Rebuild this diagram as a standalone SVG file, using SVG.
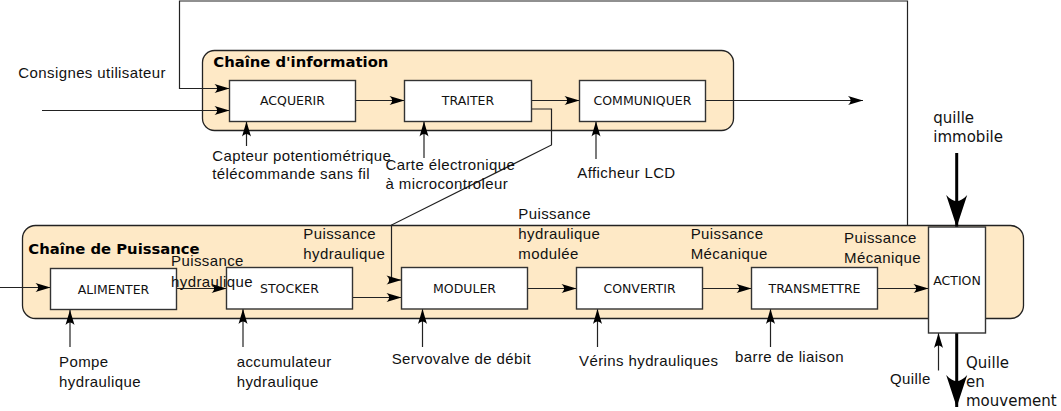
<svg xmlns="http://www.w3.org/2000/svg" width="1061" height="411" viewBox="0 0 1061 411">
<style>
.cont{fill:#fee9c6;stroke:#222;stroke-width:1.3}
.box{fill:#fff;stroke:#333;stroke-width:1.4}
.lbl{font-family:"DejaVu Sans",sans-serif;font-size:12.5px;fill:#111;text-anchor:middle}
.ttl{font-family:"DejaVu Sans",sans-serif;font-weight:bold;font-size:14.8px;fill:#000}
.t{font-family:"Liberation Sans",Arial,sans-serif;font-size:15px;letter-spacing:0.4px;fill:#111}
.d{font-family:"DejaVu Sans",sans-serif;font-size:15px;fill:#111}
.ln{fill:none;stroke:#222;stroke-width:1.2}
.ar{marker-end:url(#ah)}
.thick{fill:none;stroke:#000;stroke-width:3;marker-end:url(#ahb)}
</style>
<defs>
<marker id="ah" markerUnits="userSpaceOnUse" orient="auto" refX="0" refY="0" markerWidth="20" markerHeight="20" overflow="visible">
<path d="M0,0 L-15,-4.5 C-11.5,-1.5 -11.5,1.5 -15,4.5 Z" fill="#000"/>
</marker>
<marker id="ahb" markerUnits="userSpaceOnUse" orient="auto" refX="0" refY="0" markerWidth="40" markerHeight="40" overflow="visible">
<path d="M0,0 L-32,-10.5 C-24,-3 -24,3 -32,10.5 Z" fill="#000"/>
</marker>
</defs>

<g id="chaine-information">
<rect class="cont" x="202.5" y="50.5" width="531" height="80" rx="12"/>
<text class="ttl" x="213.3" y="67.3">Chaîne d'information</text>
</g>
<g id="chaine-puissance">
<rect class="cont" x="22.5" y="225.5" width="1001" height="93" rx="13"/>
<text class="ttl" x="28.3" y="254">Chaîne de Puissance</text>
</g>

<g id="connectors">
<path class="ln ar" d="M42,110.5 H229.5"/>
<path class="ln ar" d="M907.5,225.5 V1 H179.5 V88.5 H229.5"/>
<path class="ln ar" d="M355.5,100.5 H404.5"/>
<path class="ln ar" d="M531.5,100.5 H579.5"/>
<path class="ln ar" d="M705.5,100.5 H863"/>
<path class="ln ar" d="M531.5,109 H551.5 V145 L391.5,225 V280 H401.5"/>
<path class="ln ar" d="M246.5,146 V121.5"/>
<path class="ln ar" d="M424,158 V121.5"/>
<path class="ln ar" d="M596,159 V121.5"/>
<path class="ln ar" d="M0,287.5 H50.5"/>
<path class="ln ar" d="M176.5,288.5 H226.5"/>
<path class="ln ar" d="M352.5,297.5 H401.5"/>
<path class="ln ar" d="M527.5,288.5 H576.5"/>
<path class="ln ar" d="M702.5,288.5 H751.5"/>
<path class="ln ar" d="M877.5,288.5 H928.5"/>
<path class="ln ar" d="M70,347 V310"/>
<path class="ln ar" d="M243,347 V309"/>
<path class="ln ar" d="M422.5,347 V309"/>
<path class="ln ar" d="M597.5,347 V309"/>
<path class="ln ar" d="M770.5,347 V309"/>
<path class="ln ar" d="M938.5,370.5 V333"/>
<path class="thick" d="M956.7,153 V227"/>
<path class="thick" d="M956.7,333 V407"/>
</g>

<g id="acquerir"><rect class="box" x="229.5" y="80.5" width="126" height="41"/><text class="lbl" x="292.5" y="105.3">ACQUERIR</text></g>
<g id="traiter"><rect class="box" x="404.5" y="80.5" width="127" height="41"/><text class="lbl" x="468" y="105.3">TRAITER</text></g>
<g id="communiquer"><rect class="box" x="579.5" y="80.5" width="126" height="41"/><text class="lbl" x="642.5" y="105.3">COMMUNIQUER</text></g>
<g id="alimenter"><rect class="box" x="50.5" y="268.5" width="126" height="41"/><text class="lbl" x="113.5" y="293.8">ALIMENTER</text></g>
<g id="stocker"><rect class="box" x="226.5" y="267.5" width="126" height="41.5"/><text class="lbl" x="289.5" y="293">STOCKER</text></g>
<g id="moduler"><rect class="box" x="401.5" y="267.5" width="126" height="41.5"/><text class="lbl" x="464.5" y="293">MODULER</text></g>
<g id="convertir"><rect class="box" x="576.5" y="267.5" width="126" height="41.5"/><text class="lbl" x="639.5" y="293">CONVERTIR</text></g>
<g id="transmettre"><rect class="box" x="751.5" y="267.5" width="126" height="41.5"/><text class="lbl" x="814.5" y="293">TRANSMETTRE</text></g>
<g id="action"><rect class="box" x="928.5" y="227" width="57" height="106"/><text class="lbl" x="957" y="285">ACTION</text></g>

<g id="labels">
<text class="t" x="18.3" y="78.3">Consignes utilisateur</text>
<text class="t" x="212.3" y="160.5">Capteur potentiométrique</text>
<text class="t" x="212.3" y="179.3">télécommande sans fil</text>
<text class="t" x="385.5" y="170.3">Carte électronique</text>
<text class="t" x="385.5" y="189">à microcontroleur</text>
<text class="t" x="577.3" y="177.7">Afficheur LCD</text>
<text class="d" x="933.3" y="123.3">quille</text>
<text class="d" x="933.3" y="142.3">immobile</text>
<text class="t" x="171" y="265.7">Puissance</text>
<text class="t" x="171" y="286.7">hydraulique</text>
<text class="t" x="303.3" y="239.3">Puissance</text>
<text class="t" x="303.3" y="259.3">hydraulique</text>
<text class="t" x="518.3" y="219">Puissance</text>
<text class="t" x="518.3" y="239.3">hydraulique</text>
<text class="t" x="518.3" y="259.3">modulée</text>
<text class="t" x="690.7" y="239">Puissance</text>
<text class="t" x="690.7" y="259.3">Mécanique</text>
<text class="t" x="844" y="243.3">Puissance</text>
<text class="t" x="844" y="263.3">Mécanique</text>
<text class="t" x="59" y="366.5">Pompe</text>
<text class="t" x="59" y="386.5">hydraulique</text>
<text class="t" x="236.7" y="366.5">accumulateur</text>
<text class="t" x="236.7" y="386.5">hydraulique</text>
<text class="t" x="391.7" y="364.3">Servovalve de débit</text>
<text class="t" x="579" y="365.7">Vérins hydrauliques</text>
<text class="t" x="735" y="362.3">barre de liaison</text>
<text class="t" x="890" y="384">Quille</text>
<text class="d" x="966" y="367.7">Quille</text>
<text class="d" x="966" y="387">en</text>
<text class="d" x="966" y="405.7">mouvement</text>
</g>
</svg>
